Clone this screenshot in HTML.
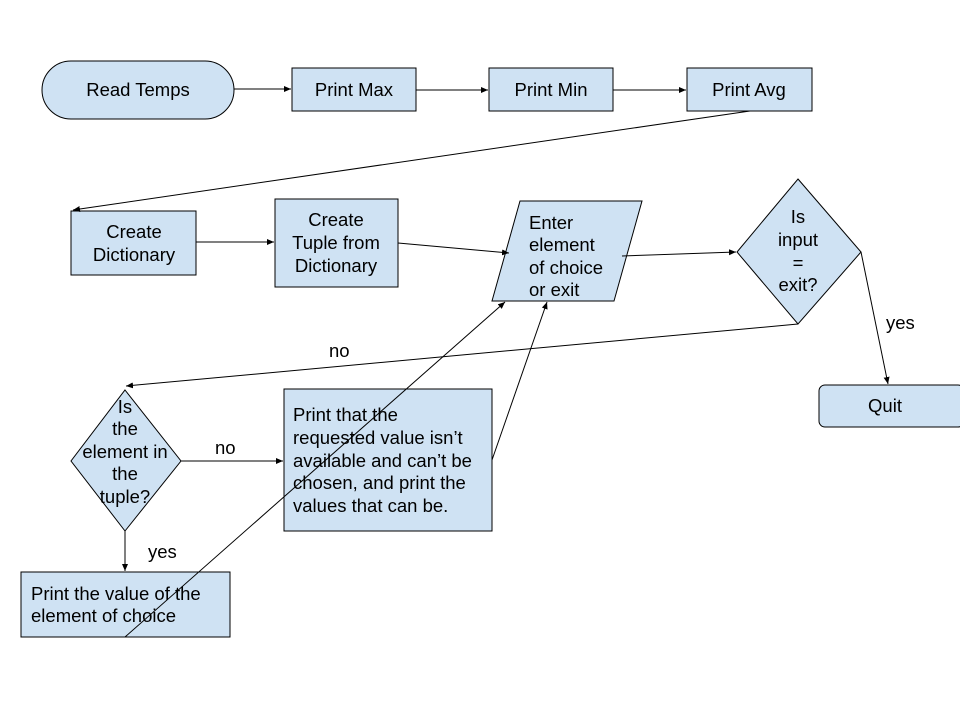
<!DOCTYPE html>
<html><head><meta charset="utf-8"><style>
html,body{margin:0;padding:0;background:#fff;}
svg{display:block}
text{font-family:"Liberation Sans",Arial,sans-serif;font-size:18.5px;fill:#000}
</style></head><body>
<svg width="960" height="720" viewBox="0 0 960 720" xmlns="http://www.w3.org/2000/svg">
<defs><marker id="a" markerWidth="8" markerHeight="8" refX="7" refY="3" orient="auto" markerUnits="userSpaceOnUse"><path d="M0,0 L7,3 L0,6 z" fill="#000"/></marker></defs>
<g fill="#cfe2f3" stroke="#000" stroke-width="1">
<rect x="42" y="61" width="192" height="58" rx="29"/>
<rect x="292" y="68" width="124" height="43"/>
<rect x="489" y="68" width="124" height="43"/>
<rect x="687" y="68" width="125" height="43"/>
<rect x="71" y="211" width="125" height="64"/>
<rect x="275" y="199" width="123" height="88"/>
<polygon points="520,201 642,201 614,301 492,301"/>
<polygon points="798,179 861,252 798,324 737,252"/>
<rect x="819" y="385" width="145" height="42" rx="6"/>
<polygon points="125,390 181,461 125,531 71,461"/>
<rect x="284" y="389" width="208" height="142"/>
<rect x="21" y="572" width="209" height="65"/>
</g>
<g stroke="#000" stroke-width="1" fill="none" marker-end="url(#a)">
<line x1="234" y1="89" x2="291" y2="89"/>
<line x1="416" y1="90" x2="488" y2="90"/>
<line x1="613" y1="90" x2="686" y2="90"/>
<line x1="750" y1="111" x2="73" y2="210"/>
<line x1="196" y1="242" x2="274" y2="242"/>
<line x1="398" y1="243" x2="509" y2="253"/>
<line x1="622" y1="256" x2="736" y2="252"/>
<line x1="861" y1="252" x2="888" y2="384"/>
<line x1="798" y1="324" x2="126" y2="386"/>
<line x1="181" y1="461" x2="283" y2="461"/>
<line x1="125" y1="531" x2="125" y2="571"/>
<line x1="125" y1="637" x2="505" y2="302"/>
<line x1="492" y1="460" x2="547" y2="302"/>
</g>
<g text-anchor="middle">
<text x="138" y="96">Read Temps</text>
<text x="354" y="96">Print Max</text>
<text x="551" y="96">Print Min</text>
<text x="749" y="96">Print Avg</text>
<text x="134" y="238">Create</text>
<text x="134" y="261">Dictionary</text>
<text x="336" y="226">Create</text>
<text x="336" y="249">Tuple from</text>
<text x="336" y="272">Dictionary</text>
<text x="798" y="223">Is</text>
<text x="798" y="246">input</text>
<text x="798" y="269">=</text>
<text x="798" y="291">exit?</text>
<text x="885" y="412">Quit</text>
<text x="125" y="413">Is</text>
<text x="125" y="435">the</text>
<text x="125" y="458">element in</text>
<text x="125" y="480">the</text>
<text x="125" y="503">tuple?</text>
</g>
<text x="529" y="229">Enter</text>
<text x="529" y="251">element</text>
<text x="529" y="274">of choice</text>
<text x="529" y="296">or exit</text>
<text x="293" y="421">Print that the</text>
<text x="293" y="444">requested value isn’t</text>
<text x="293" y="467">available and can’t be</text>
<text x="293" y="489">chosen, and print the</text>
<text x="293" y="512">values that can be.</text>
<text x="31" y="600">Print the value of the</text>
<text x="31" y="622">element of choice</text>
<text x="886" y="329">yes</text>
<text x="329" y="357">no</text>
<text x="215" y="454">no</text>
<text x="148" y="558">yes</text>
</svg>
</body></html>
